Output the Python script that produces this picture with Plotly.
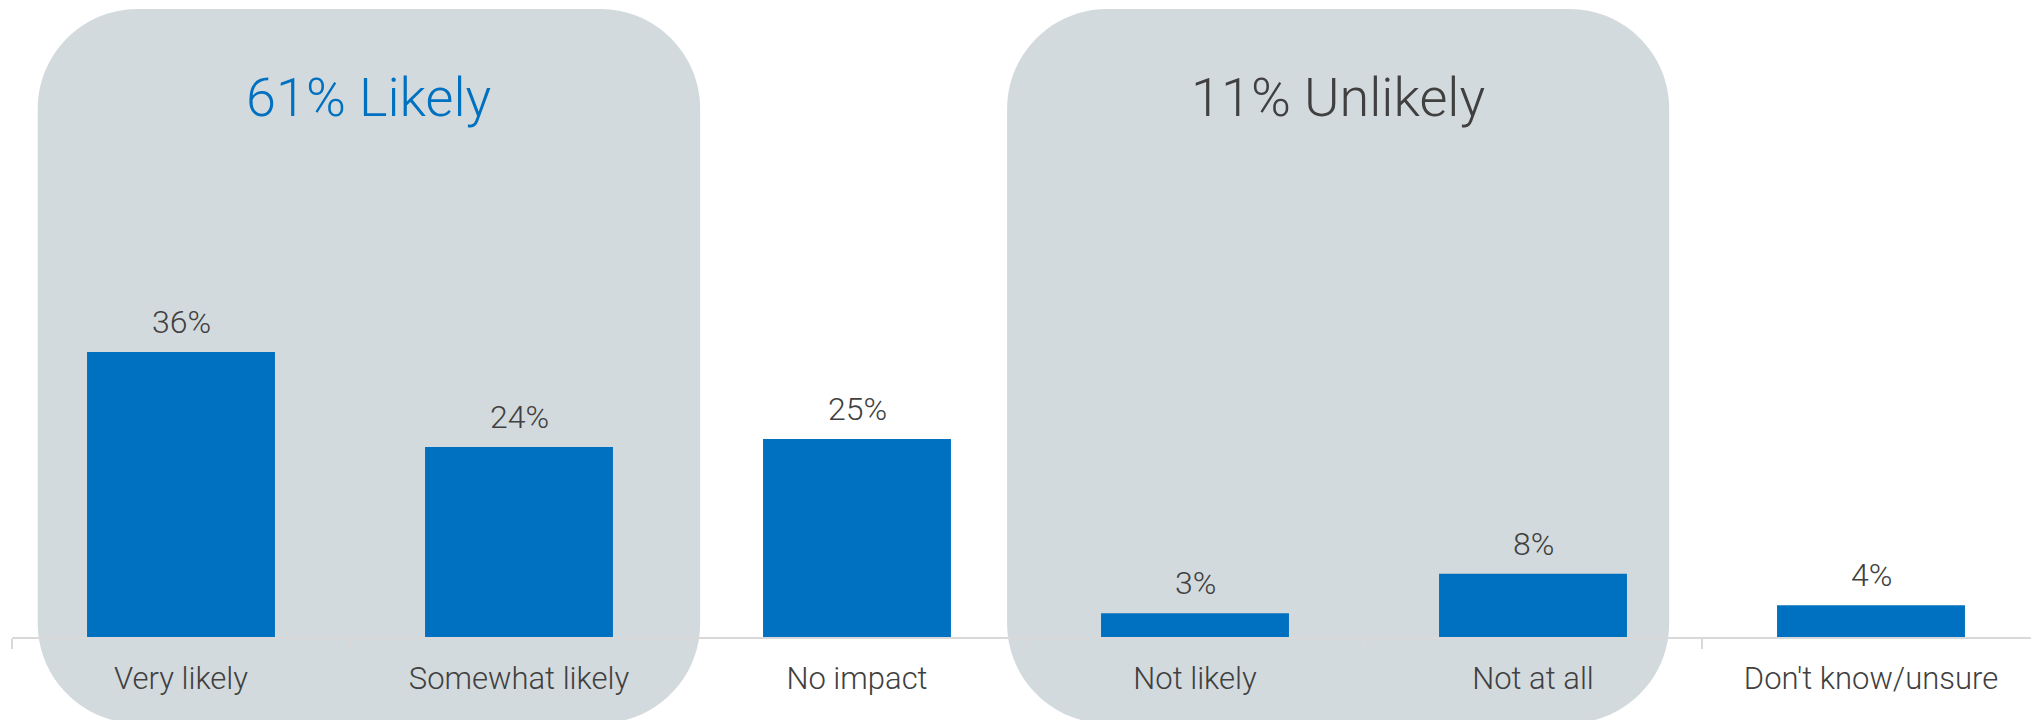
import plotly.graph_objects as go

# Survey answers and their shares (percent of respondents)
categories = ["Very likely", "Somewhat likely", "No impact", "Not likely", "Not at all", "Don't know/unsure"]
shares = [36, 24, 25, 3, 8, 4]

# Grouping panels: title, first/last category index, title colour
group_titles = ["61% Likely", "11% Unlikely"]
group_members = [(0, 1), (3, 4)]
group_title_colors = ["#0070C0", "#404040"]

# ---- layout constants -------------------------------------------------------
W, H = 2031, 720
M_L, M_R, M_T, M_B = 12, 0, 0, 83
plot_w = W - M_L - M_R
plot_h = H - M_T - M_B
cat_px = 338.0                       # pixel width of one category band
x_lo = -0.5
x_hi = x_lo + plot_w / cat_px
px_per_pct = 7.92
y_hi = plot_h / px_per_pct

BAR_COLOR = "#0070C0"
TEXT_COLOR = "#404040"
PANEL_COLOR = "#D3DADD"
AXIS_COLOR = "#D9D9D9"
FONT = "Roboto, 'Liberation Sans', Arial, sans-serif"

# panel extents in category units (left pad, right pad) and y-extent in %
panel_pad = [(-0.424, 0.536), (-0.556, 0.403)]
panel_top_pct = 79.3
panel_bottom_pct = -10.9
corner_px = 100


def xp(c):
    return (c - x_lo) / (x_hi - x_lo)


def yp(v):
    return v / y_hi


def rounded_rect(x0, x1, y0, y1, rx, ry):
    k = 0.5523
    return (
        f"M {x0 + rx},{y1} L {x1 - rx},{y1} "
        f"C {x1 - rx + k * rx},{y1} {x1},{y1 - ry + k * ry} {x1},{y1 - ry} "
        f"L {x1},{y0 + ry} "
        f"C {x1},{y0 + ry - k * ry} {x1 - rx + k * rx},{y0} {x1 - rx},{y0} "
        f"L {x0 + rx},{y0} "
        f"C {x0 + rx - k * rx},{y0} {x0},{y0 + ry - k * ry} {x0},{y0 + ry} "
        f"L {x0},{y1 - ry} "
        f"C {x0},{y1 - ry + k * ry} {x0 + rx - k * rx},{y1} {x0 + rx},{y1} Z"
    )


fig = go.Figure()

fig.add_trace(
    go.Bar(
        x=categories,
        y=shares,
        marker=dict(color=BAR_COLOR, line=dict(width=0)),
        hoverinfo="x+y",
    )
)

shapes = []
annotations = []

for (first, last), (pl, pr), title, tcol in zip(group_members, panel_pad, group_titles, group_title_colors):
    x0 = xp(first + pl)
    x1 = xp(last + pr)
    y0 = yp(panel_bottom_pct)
    y1 = yp(panel_top_pct)
    rx = corner_px / plot_w
    ry = corner_px / plot_h
    shapes.append(
        dict(
            type="path",
            xref="paper",
            yref="paper",
            path=rounded_rect(x0, x1, y0, y1, rx, ry),
            fillcolor=PANEL_COLOR,
            line=dict(width=0),
            layer="below",
        )
    )
    annotations.append(
        dict(
            x=(x0 + x1) / 2,
            y=yp(panel_top_pct) - 89 / plot_h,
            xref="paper",
            yref="paper",
            text=title,
            showarrow=False,
            xanchor="center",
            yanchor="middle",
            font=dict(family=FONT, size=54, color=tcol, weight=300),
        )
    )

# value labels above each bar
for cat, v in zip(categories, shares):
    annotations.append(
        dict(
            x=cat,
            y=v,
            xref="x",
            yref="y",
            text=f"{v}%",
            showarrow=False,
            xanchor="center",
            yanchor="middle",
            yshift=30,
            font=dict(family=FONT, size=32, color=TEXT_COLOR, weight=300),
        )
    )

fig.update_layout(
    width=W,
    height=H,
    margin=dict(l=M_L, r=M_R, t=M_T, b=M_B, pad=0),
    paper_bgcolor="white",
    plot_bgcolor="rgba(0,0,0,0)",
    showlegend=False,
    bargap=0.444,
    shapes=shapes,
    annotations=annotations,
    xaxis=dict(
        type="category",
        range=[x_lo, x_hi],
        showline=True,
        linecolor=AXIS_COLOR,
        linewidth=1.5,
        ticks="outside",
        tickson="boundaries",
        ticklen=10,
        tickwidth=1.5,
        tickcolor=AXIS_COLOR,
        showgrid=False,
        zeroline=False,
        ticklabelstandoff=13,
        tickfont=dict(family=FONT, size=31, color=TEXT_COLOR, weight=300),
        fixedrange=True,
    ),
    yaxis=dict(
        range=[0, y_hi],
        visible=False,
        showgrid=False,
        zeroline=False,
        fixedrange=True,
    ),
)

fig.write_html("out.html")
